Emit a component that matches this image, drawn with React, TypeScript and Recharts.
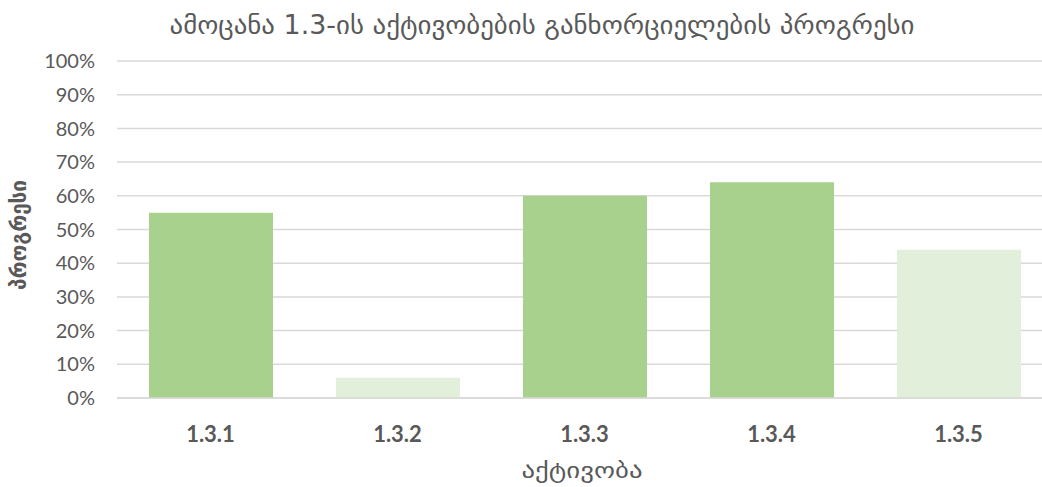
import { BarChart, Bar, XAxis, YAxis, CartesianGrid, Cell } from "recharts";

const activities = ["1.3.1", "1.3.2", "1.3.3", "1.3.4", "1.3.5"];
const progress = [55, 6, 60, 64, 44];
const yTicks = [0, 10, 20, 30, 40, 50, 60, 70, 80, 90, 100];

const DARK = "#A9D18E";
const LIGHT = "#E2EFDA";
const barColors = [DARK, LIGHT, DARK, DARK, LIGHT];

const data = activities.map((name, i) => ({ name, progress: progress[i] }));

const TEXT = "#595959";
const NUM_FONT = "Lato, 'Open Sans', sans-serif";
const GEO_FONT = "'DejaVu Sans', sans-serif";

export default function App() {
  return (
    <div
      style={{
        position: "fixed",
        left: 0,
        top: 0,
        width: 1042,
        height: 487,
        overflow: "hidden",
        background: "white",
      }}
    >
      <BarChart
        width={1052}
        height={487}
        data={data}
        margin={{ top: 61, right: 0, bottom: 0, left: 0 }}
      >
        <CartesianGrid vertical={false} stroke="#D9D9D9" strokeWidth={1.5} />
        <XAxis
          dataKey="name"
          height={89}
          axisLine={{ stroke: "#D9D9D9", strokeWidth: 1.5 }}
          tickLine={false}
          tickMargin={22}
          tick={{ fontSize: 22, fontWeight: 700, fill: TEXT, fontFamily: NUM_FONT }}
        />
        <YAxis
          width={117}
          domain={[0, 100]}
          ticks={yTicks}
          interval={0}
          axisLine={false}
          tickLine={false}
          tickMargin={16}
          tickFormatter={(v) => `${v}%`}
          tick={{ fontSize: 20, fill: TEXT, fontFamily: NUM_FONT }}
        />
        <Bar dataKey="progress" barSize={124} isAnimationActive={false}>
          {data.map((d, i) => (
            <Cell key={d.name} fill={barColors[i]} />
          ))}
        </Bar>
        <text
          x={542}
          y={25}
          textAnchor="middle"
          dominantBaseline="central"
          fontSize={26}
          fill={TEXT}
          fontFamily={GEO_FONT}
          textLength={745}
          lengthAdjust="spacingAndGlyphs"
        >
          ამოცანა 1.3-ის აქტივობების განხორციელების პროგრესი
        </text>
        <text
          x={582}
          y={470}
          textAnchor="middle"
          dominantBaseline="central"
          fontSize={22}
          fill={TEXT}
          fontFamily={GEO_FONT}
          textLength={121}
          lengthAdjust="spacingAndGlyphs"
        >
          აქტივობა
        </text>
        <text
          x={19}
          y={235}
          textAnchor="middle"
          dominantBaseline="central"
          fontSize={21}
          fontWeight={700}
          fill={TEXT}
          fontFamily={GEO_FONT}
          textLength={110}
          lengthAdjust="spacingAndGlyphs"
          transform="rotate(-90 19 235)"
        >
          პროგრესი
        </text>
      </BarChart>
    </div>
  );
}
